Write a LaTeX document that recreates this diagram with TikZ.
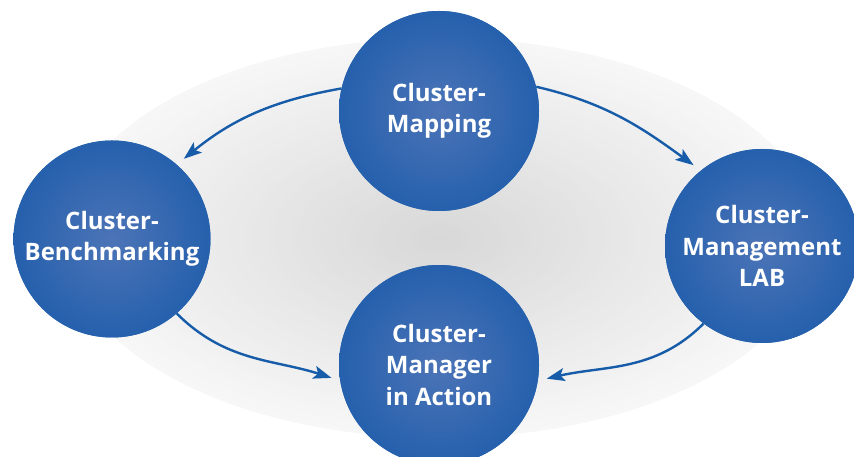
\documentclass[tikz,border=0pt]{standalone}
\usepackage{fontspec}
\setmainfont{Open Sans}
\usetikzlibrary{arrows.meta}
\definecolor{ballA}{HTML}{4C74B7}
\definecolor{ballB}{HTML}{2761AD}
\definecolor{ballC}{HTML}{0F55A5}
\definecolor{bgA}{HTML}{D8D8D8}
\definecolor{bgB}{HTML}{F7F7F7}
\definecolor{arrowblue}{HTML}{175CA9}
\pgfdeclareradialshading{sphere}{\pgfpoint{0bp}{0bp}}{color(0bp)=(ballA); color(24bp)=(ballB); color(48bp)=(ballC); color(100bp)=(ballC)}
\tikzset{
  ball/.style={circle, shading=sphere, text=white, align=center, inner sep=0pt,
    font=\bfseries\fontsize{24}{31.5}\selectfont},
  conn/.style={draw=arrowblue, line width=2.4pt,
    -{Stealth[length=18pt,width=13pt,inset=4pt]}, shorten >=9pt}
}
\begin{document}
\begin{tikzpicture}[x=1pt,y=1pt]
\clip (0,0) rectangle (854,457);
\fill[white] (0,0) rectangle (854,457);
% background: radial gray gradient built from concentric ellipses
\foreach \i in {0,...,49}{
  \pgfmathsetmacro{\f}{1-\i/50}
  \pgfmathsetmacro{\m}{100*\i/49}
  \fill[bgA!\m!bgB] (440,219) ellipse [x radius=375*\f, y radius=200*\f];
}
% nodes
\node[ball, minimum size=200pt] (T) at (439,346) {Cluster-\\Mapping};
\node[ball, minimum size=197pt] (L) at (112,218) {Cluster-\\Benchmarking};
\node[ball, minimum size=194pt] (R) at (762,211) {Cluster-\\Management\\LAB};
\node[ball, minimum size=200pt] (B) at (439,92) {Cluster-\\Manager\\in Action};
% connectors
\path[conn] (T.167) to[out=190,in=39] (L.49);
\path[conn] (T.14) to[out=-13,in=144] (R.129);
\path[conn] (L.-49) to[out=-45,in=162] (B.189);
\path[conn] (R.233) to[out=225,in=13] (B.-9);
% circles again, on top of the connector ends
\node[ball, minimum size=200pt] at (T) {Cluster-\\Mapping};
\node[ball, minimum size=197pt] at (L) {Cluster-\\Benchmarking};
\node[ball, minimum size=194pt] at (R) {Cluster-\\Management\\LAB};
\node[ball, minimum size=200pt] at (B) {Cluster-\\Manager\\in Action};
\end{tikzpicture}
\end{document}
